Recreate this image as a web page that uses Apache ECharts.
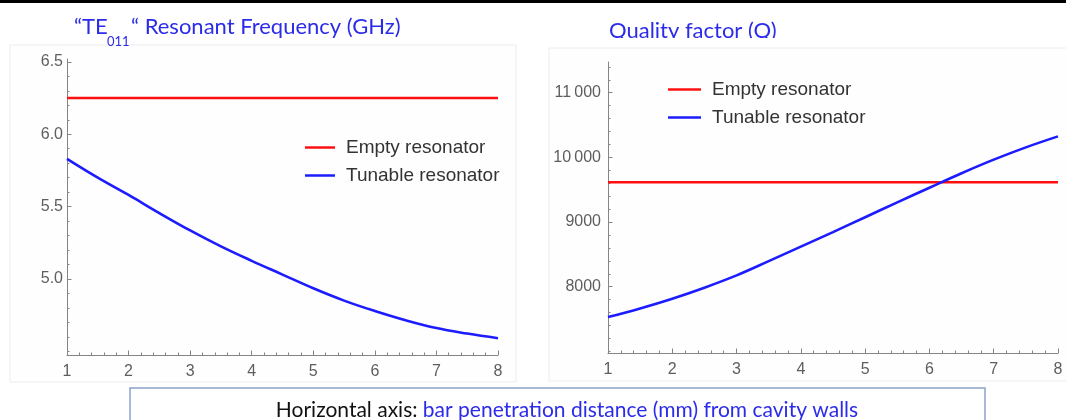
<!DOCTYPE html>
<html>
<head>
<meta charset="utf-8">
<script src="https://cdn.jsdelivr.net/npm/echarts@6/dist/echarts.min.js"></script>
<style>
  html, body { margin: 0; padding: 0; background: #fff; }
  #chart { width: 1066px; height: 420px; }
</style>
</head>
<body>
<div id="chart"></div>
<script>
// Bar penetration distance (mm)
const penetration = [1, 1.5, 2, 2.5, 3, 3.5, 4, 4.5, 5, 5.5, 6, 6.5, 7, 7.5, 8];

// TE011 resonant frequency (GHz)
const freqEmpty   = [6.25, 6.25, 6.25, 6.25, 6.25, 6.25, 6.25, 6.25, 6.25, 6.25, 6.25, 6.25, 6.25, 6.25, 6.25];
const freqTunable = [5.83, 5.70, 5.58, 5.455, 5.335, 5.225, 5.125, 5.03, 4.935, 4.85, 4.778, 4.714, 4.66, 4.622, 4.59];

// Quality factor
const qEmpty   = [9615, 9615, 9615, 9615, 9615, 9615, 9615, 9615, 9615, 9615, 9615, 9615, 9615, 9615, 9615];
const qTunable = [7530, 7665, 7815, 7985, 8175, 8395, 8620, 8845, 9075, 9305, 9530, 9755, 9965, 10155, 10325];

// Tick labels
const xTicks    = [1, 2, 3, 4, 5, 6, 7, 8];
const freqTicks = [5.0, 5.5, 6.0, 6.5];
const qTicks    = [8000, 9000, 10000, 11000];

const seriesNames = ['Empty resonator', 'Tunable resonator'];

const RED = '#ff1010';
const BLUE = '#1c1cff';
const AXIS = '#858585';
const LABEL = '#5e5e5e';
const TITLE_BLUE = '#2b2bea';
const TITLE_FONT = 'Lato, "Open Sans", sans-serif';
const TICK_FONT = 'Liberation Sans, Arial, sans-serif';

function pairs(xs, ys) { return xs.map((x, i) => [x, ys[i]]); }

// minor ticks between (and just outside) the labelled ones
function minorValues(lo, hi, step, majors) {
  const out = [];
  const n = Math.round((hi - lo) / step);
  for (let i = 0; i <= n; i++) {
    const v = +(lo + i * step).toFixed(6);
    if (!majors.some(m => Math.abs(m - v) < step / 10)) out.push(v);
  }
  return out;
}

const freqMinor = minorValues(4.5, 6.5, 0.1, freqTicks);
const qMinor = minorValues(7000, 11400, 200, qTicks);

function xAxisCfg(gridIndex) {
  return {
    type: 'value', gridIndex, min: xTicks[0], max: xTicks[xTicks.length - 1], interval: 1,
    axisLine: { show: true, onZero: false, lineStyle: { color: AXIS, width: 1 } },
    axisTick: { show: true, inside: true, length: 4.5, lineStyle: { color: AXIS } },
    minorTick: { show: true, splitNumber: 5, length: 2.5, lineStyle: { color: AXIS } },
    splitLine: { show: false },
    axisLabel: { color: LABEL, fontSize: 16, fontFamily: TICK_FONT, margin: 9 }
  };
}

function yMajor(gridIndex, min, max, ticks, fmt, margin) {
  return {
    type: 'value', gridIndex, min, max, position: 'left',
    axisLine: { show: true, onZero: false, lineStyle: { color: AXIS, width: 1 } },
    axisTick: { show: true, inside: true, length: 4.5, customValues: ticks, lineStyle: { color: AXIS } },
    splitLine: { show: false },
    axisLabel: { color: LABEL, fontSize: 16, fontFamily: TICK_FONT,
                 margin, customValues: ticks, formatter: fmt }
  };
}

function yMinor(gridIndex, min, max, values) {
  return {
    type: 'value', gridIndex, min, max, position: 'left',
    axisLine: { show: false },
    axisTick: { show: true, inside: true, length: 2.5, customValues: values, lineStyle: { color: AXIS } },
    splitLine: { show: false },
    axisLabel: { show: false }
  };
}

function lineSeries(name, xi, yi, data, color, z) {
  return {
    name, type: 'line', xAxisIndex: xi, yAxisIndex: yi, data,
    smooth: 0.4, showSymbol: false, symbol: 'none', z,
    color, itemStyle: { color }, lineStyle: { color, width: 2.6 },
    emphasis: { disabled: true }, silent: true
  };
}

function legendCfg(left, top, itemWidth) {
  return {
    data: seriesNames, orient: 'vertical', left, top, padding: 0,
    icon: 'rect', itemWidth, itemHeight: 2.5, itemGap: 9,
    selectedMode: false,
    textStyle: { color: '#333', fontSize: 19, fontFamily: TICK_FONT, padding: [0, 0, 0, 6] }
  };
}

const qFmt = v => v >= 10000 ? String(v).replace(/(\d+)(\d{3})$/, '$1\u2009$2') : String(v);

const option = {
  animation: false,
  backgroundColor: '#ffffff',
  grid: [
    { left: 67, top: 59, width: 431, height: 296 },
    { left: 608, top: 62, width: 450, height: 291 }
  ],
  xAxis: [xAxisCfg(0), xAxisCfg(1)],
  yAxis: [
    yMajor(0, 4.474, 6.52, freqTicks, v => v.toFixed(1), 4),
    yMinor(0, 4.474, 6.52, freqMinor),
    yMajor(1, 6975, 11475, qTicks, qFmt, 7),
    yMinor(1, 6975, 11475, qMinor)
  ],
  legend: [legendCfg(305, 138, 30), legendCfg(668, 80, 33)],
  series: [
    lineSeries(seriesNames[0], 0, 0, pairs(penetration, freqEmpty), RED, 3),
    lineSeries(seriesNames[1], 0, 0, pairs(penetration, freqTunable), BLUE, 4),
    lineSeries(seriesNames[0], 1, 2, pairs(penetration, qEmpty), RED, 3),
    lineSeries(seriesNames[1], 1, 2, pairs(penetration, qTunable), BLUE, 4)
  ],
  graphic: [
    // panel backgrounds
    { type: 'rect', z: -10, silent: true, shape: { x: 10, y: 45, width: 506, height: 337 },
      style: { fill: '#fefefe', stroke: '#ececec', lineWidth: 1 } },
    { type: 'rect', z: -10, silent: true, shape: { x: 549, y: 48, width: 530, height: 333 },
      style: { fill: '#fefefe', stroke: '#ececec', lineWidth: 1 } },
    // rule along the top edge
    { type: 'rect', silent: true, shape: { x: 0, y: 0, width: 1066, height: 3 }, style: { fill: '#000' } },
    // chart titles
    { type: 'text', silent: true, style: { x: 74, y: 27, text: '\u201cTE', fill: TITLE_BLUE,
      font: '22px ' + TITLE_FONT, verticalAlign: 'middle' } },
    { type: 'text', silent: true, style: { x: 107, y: 42, text: '011', fill: TITLE_BLUE,
      font: '13px ' + TITLE_FONT, verticalAlign: 'middle' } },
    { type: 'text', silent: true, style: { x: 131, y: 27, text: '\u201c Resonant Frequency (GHz)', fill: TITLE_BLUE,
      font: '22px ' + TITLE_FONT, verticalAlign: 'middle' } },
    { type: 'text', silent: true, z: 1, style: { x: 609, y: 31, text: 'Quality factor (Q)', fill: TITLE_BLUE,
      font: '22px ' + TITLE_FONT, verticalAlign: 'middle' } },
    { type: 'rect', silent: true, z: 2, shape: { x: 600, y: 38, width: 200, height: 9 }, style: { fill: '#fff' } },
    // caption box
    { type: 'rect', silent: true, shape: { x: 130, y: 388, width: 855, height: 45 },
      style: { fill: '#fff', stroke: '#8aa3c9', lineWidth: 1.5 } },
    { type: 'text', silent: true, style: {
        x: 567, y: 410, align: 'center', verticalAlign: 'middle',
        text: '{k|Horizontal axis: }{v|bar penetration distance (mm) from cavity walls}',
        rich: {
          k: { fill: '#111', font: '21px ' + TITLE_FONT },
          v: { fill: TITLE_BLUE, font: '21px ' + TITLE_FONT }
        } } }
  ]
};

const chart = echarts.init(document.getElementById('chart'), null, { renderer: 'canvas' });
chart.setOption(option);
</script>
</body>
</html>
